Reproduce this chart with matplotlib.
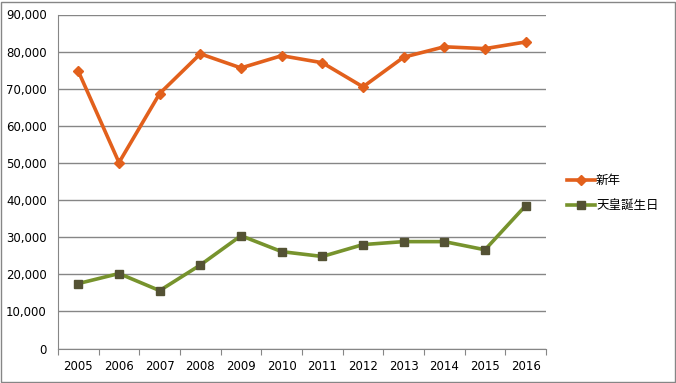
import matplotlib.pyplot as plt
from matplotlib.patches import Rectangle
from matplotlib.ticker import FuncFormatter
import numpy as np

plt.rcParams['font.family'] = ['Noto Sans CJK JP', 'DejaVu Sans']

# Data
years = ['2005', '2006', '2007', '2008', '2009', '2010',
         '2011', '2012', '2013', '2014', '2015', '2016']
new_year = [74700, 50100, 68700, 79400, 75600, 78900,
            77000, 70500, 78500, 81300, 80800, 82600]
emperor_bday = [17500, 20200, 15600, 22500, 30400, 26100,
                24800, 28000, 28800, 28800, 26600, 38500]
series_names = ['新年', '天皇誕生日']

grid_color = '#868686'

fig = plt.figure(figsize=(6.76, 3.83), dpi=100)
ax = fig.add_axes([58 / 676, (383 - 348.5) / 383, 488 / 676, 334 / 383])

x = np.arange(len(years))
ax.plot(x, new_year, color='#E2601C', lw=2.6, marker='D', ms=5.5,
        mec='#E2601C', mfc='#E2601C', label=series_names[0])
ax.plot(x, emperor_bday, color='#77932D', lw=2.6, marker='s', ms=6,
        mec='#545234', mfc='#545234', label=series_names[1])

ax.set_xlim(-0.5, len(years) - 0.5)
ax.set_ylim(0, 90000)
ax.set_yticks(np.arange(0, 90001, 10000))
ax.yaxis.set_major_formatter(FuncFormatter(lambda v, p: f'{int(v):,}'))
ax.grid(axis='y', color=grid_color, lw=1)
ax.set_axisbelow(True)

# category ticks sit on the boundaries, labels in the middle
ax.set_xticks(np.arange(-0.5, len(years), 1))
ax.set_xticklabels([])
ax.set_xticks(x, minor=True)
ax.set_xticklabels(years, minor=True, fontsize=8.5, family='DejaVu Sans')
ax.tick_params(axis='x', which='major', length=4, color=grid_color, direction='out')
ax.tick_params(axis='x', which='minor', length=0, pad=8)
ax.tick_params(axis='y', length=0, labelsize=8.5, pad=8)
for lab in ax.get_yticklabels():
    lab.set_family('DejaVu Sans')

for side in ['top', 'right']:
    ax.spines[side].set_visible(False)
ax.spines['left'].set_color(grid_color)
ax.spines['bottom'].set_color(grid_color)

fig.legend(loc='upper left', bbox_to_anchor=(556 / 676, 1 - 163 / 383),
           frameon=False, fontsize=9, handlelength=2.2, labelspacing=1.0,
           handletextpad=0.1)

fig.patches.append(Rectangle((1 / 676, 1 / 383), 674 / 676, 380 / 383,
                             transform=fig.transFigure, fill=False,
                             edgecolor=grid_color, lw=1))

fig.savefig('out.png', dpi=100)
